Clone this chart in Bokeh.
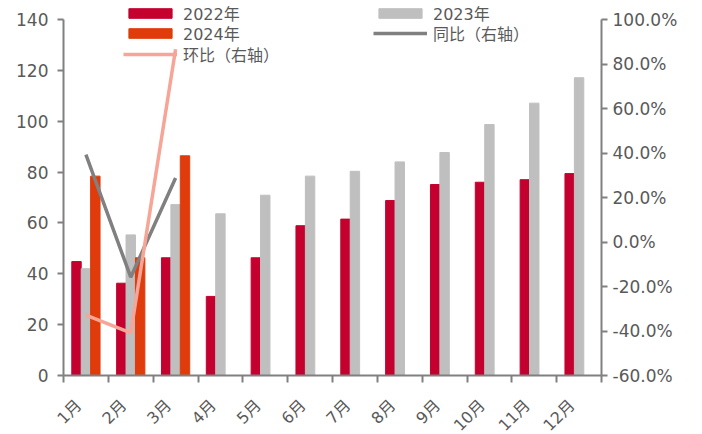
import math
import numpy as np
from bokeh.plotting import figure
from bokeh.models import (ColumnDataSource, Range1d, LinearAxis, FixedTicker,
                          NumeralTickFormatter, Legend, LegendItem)
from bokeh.embed import file_html
from bokeh.resources import INLINE

# ---- data ----
months = ["1月", "2月", "3月", "4月", "5月", "6月", "7月", "8月", "9月", "10月", "11月", "12月"]
sales_2022 = [44.8, 36.3, 46.3, 31.1, 46.3, 58.9, 61.5, 68.8, 75.1, 76.0, 77.0, 79.4]
sales_2023 = [42.0, 55.3, 67.2, 63.6, 70.9, 78.4, 80.3, 84.0, 87.7, 98.7, 107.1, 117.1]
sales_2024 = [78.4, 46.3, 86.4]
yoy_2024 = [0.393, -0.158, 0.288]      # 同比（右轴）
mom_2024 = [-0.329, -0.408, 0.866]     # 环比（右轴）
left_ticks = [0, 20, 40, 60, 80, 100, 120, 140]
right_ticks = [-0.6, -0.4, -0.2, 0.0, 0.2, 0.4, 0.6, 0.8, 1.0]

# ---- styles / layout ----
C22 = "#C4002F"
C23 = "#BFBFBF"
C24 = "#E03B0A"
CYOY = "#808080"
CMOM = "#F6A596"
AX = "#808080"
TXT = "#595959"
FONT = "DejaVu Sans, Noto Sans CJK SC"
BW = 0.21
OFF = 0.21
LABEL_SHIFT = 0.16
W, H = 702, 434
TOP_PAD, BOT_PAD = 19, 59           # pixels above/below the value area
LEFT_PAD, RIGHT_PAD = 63, 101       # pixels left/right of the category area
AXIS_H = H - TOP_PAD - BOT_PAD
AXIS_W = W - LEFT_PAD - RIGHT_PAD


def padded(lo, hi, pad_lo, pad_hi, size):
    span = hi - lo
    return Range1d(lo - span * pad_lo / size, hi + span * pad_hi / size)


n_cat = len(months)
centers = np.arange(n_cat) + 0.5
src22 = ColumnDataSource(dict(x=centers - OFF, top=sales_2022))
src23 = ColumnDataSource(dict(x=centers, top=sales_2023))
n24 = len(sales_2024)
src24 = ColumnDataSource(dict(x=centers[:n24] + OFF, top=sales_2024))
srcyoy = ColumnDataSource(dict(x=centers[:n24], y=yoy_2024))
srcmom = ColumnDataSource(dict(x=centers[:n24], y=mom_2024))

p = figure(width=W, height=H, output_backend="svg", toolbar_location=None,
           x_range=padded(0, n_cat, LEFT_PAD, RIGHT_PAD, AXIS_W),
           y_range=padded(left_ticks[0], left_ticks[-1], BOT_PAD, TOP_PAD, AXIS_H),
           min_border_left=0, min_border_right=0, min_border_top=0, min_border_bottom=0)
p.extra_y_ranges = {"pct": padded(right_ticks[0], right_ticks[-1], BOT_PAD, TOP_PAD, AXIS_H)}
p.xgrid.visible = False
p.ygrid.visible = False
p.outline_line_color = None
p.background_fill_color = "white"
p.border_fill_color = "white"

r22 = p.vbar(x="x", top="top", width=BW, source=src22, color=C22)
r23 = p.vbar(x="x", top="top", width=BW, source=src23, color=C23)
r24 = p.vbar(x="x", top="top", width=BW, source=src24, color=C24)
ryoy = p.line(x="x", y="y", source=srcyoy, y_range_name="pct", line_color=CYOY, line_width=3.5)
rmom = p.line(x="x", y="y", source=srcmom, y_range_name="pct", line_color=CMOM, line_width=3.5)

# x axis at value 0: tick marks at category boundaries, labels near category centres
label_pos = [float(c - LABEL_SHIFT) for c in centers]
xa = p.xaxis[0]
xa.fixed_location = 0
xa.bounds = (0, n_cat)
xa.ticker = FixedTicker(ticks=label_pos, minor_ticks=list(range(n_cat + 1)))
xa.major_label_overrides = {lp: m for lp, m in zip(label_pos, months)}
xa.major_tick_line_color = None
xa.minor_tick_line_color = AX
xa.minor_tick_line_width = 2
xa.minor_tick_out = 7
xa.minor_tick_in = 0
xa.axis_line_color = AX
xa.axis_line_width = 2
xa.major_label_orientation = math.pi / 4
xa.major_label_standoff = 20
xa.major_label_text_font = FONT
xa.major_label_text_font_size = "16px"
xa.major_label_text_color = TXT

# left axis at the first category boundary
ya = p.yaxis[0]
ya.fixed_location = 0
ya.bounds = (left_ticks[0], left_ticks[-1])
ya.ticker = FixedTicker(ticks=left_ticks)
ya.axis_line_color = AX
ya.axis_line_width = 2
ya.major_tick_line_color = AX
ya.major_tick_line_width = 2
ya.major_tick_out = 6
ya.major_tick_in = 0
ya.minor_tick_line_color = None
ya.major_label_standoff = 9
ya.major_label_text_font = FONT
ya.major_label_text_font_size = "17px"
ya.major_label_text_color = TXT

# right axis at the last category boundary
ra = LinearAxis(y_range_name="pct", ticker=FixedTicker(ticks=right_ticks),
                fixed_location=n_cat,
                bounds=(right_ticks[0], right_ticks[-1]),
                formatter=NumeralTickFormatter(format="0.0%"))
ra.axis_line_color = AX
ra.axis_line_width = 2
ra.major_tick_line_color = AX
ra.major_tick_line_width = 2
ra.major_tick_out = 6
ra.major_tick_in = 0
ra.minor_tick_line_color = None
ra.major_label_standoff = 5
ra.major_label_text_font = FONT
ra.major_label_text_font_size = "17px"
ra.major_label_text_color = TXT
p.add_layout(ra, "right")


def add_legend_row(label, renderer, loc):
    lg = Legend(items=[LegendItem(label=label, renderers=[renderer])],
                location=loc, orientation="vertical",
                glyph_width=54, glyph_height=12, label_height=18, spacing=0,
                padding=0, margin=0, label_standoff=6,
                label_text_font=FONT, label_text_font_size="16px",
                label_text_color=TXT, background_fill_alpha=0,
                border_line_color=None)
    p.add_layout(lg)


# legend rows: (x offset from canvas left, y offset of row bottom from canvas bottom)
add_legend_row("2022年", r22, (123, 409))
add_legend_row("2024年", r24, (123, 389))
add_legend_row("环比（右轴）", rmom, (123, 368))
add_legend_row("2023年", r23, (373, 409))
add_legend_row("同比（右轴）", ryoy, (373, 389))

open("out.html", "w").write(file_html(p, INLINE))
